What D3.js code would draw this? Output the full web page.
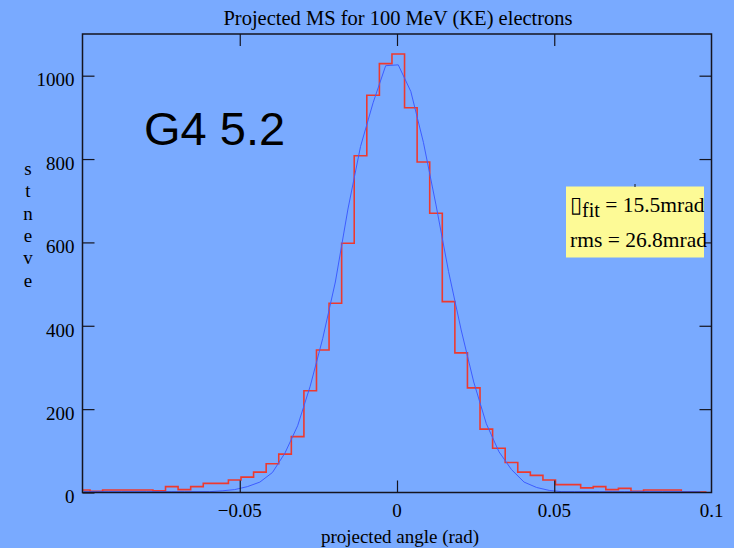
<!DOCTYPE html>
<html>
<head>
<meta charset="utf-8">
<script src="https://cdn.jsdelivr.net/npm/d3@7"></script>
<style>
  html, body { margin: 0; padding: 0; background: #79aaff; }
  svg { display: block; }
</style>
</head>
<body>
<script>
'use strict';

// histogram binning (rad)
var binStart = -0.1016;
var binWidth = 0.004;

// G4 counts per bin (red histogram)
var g4Counts = [6, 3, 6, 6, 6, 6, 4, 14, 7, 14,
    22, 22, 30, 37, 49, 69, 92, 134, 244, 342,
    454, 598, 808, 953, 1029, 1052, 923, 793, 670, 458,
    335, 251, 152, 106, 72, 49, 41, 30, 19, 19,
    11, 14, 7, 10, 3, 6, 6, 6, 1, 1];

// fit curve sampled at the bin centres (blue line)
var fitValues = [2, 2, 2, 2, 2, 2, 2, 2, 2, 2,
    2, 4, 7, 14, 25, 48, 95, 160, 255, 370,
    505, 680, 830, 935, 1024, 1026, 962, 840, 690, 530,
    390, 265, 165, 98, 55, 25, 12, 5, 2, 2,
    2, 2, 2, 2, 2, 2, 2, 2, 2, 2];

var xTickValues = [-0.05, 0, 0.05];
var xLabelValues = [-0.05, 0, 0.05, 0.1];
var yTickValues = [0, 200, 400, 600, 800, 1000];
var yTitleLetters = ['s', 't', 'n', 'e', 'v', 'e'];

var chartTitle = 'Projected MS for 100 MeV (KE) electrons';
var xTitle = 'projected angle (rad)';
var versionLabel = 'G4 5.2';
var fitLabel = ['\u25AF', 'fit', ' = 15.5mrad'];
var rmsLabel = 'rms = 26.8mrad';

var width = 734;
var height = 548;
var plot = {left: 82.5, right: 711.5, top: 34, bottom: 492.5};
var serif = '"Liberation Serif", "Times New Roman", serif';
var axisColor = '#14141f';

var svg = d3.select('body').append('svg')
        .attr('width', width)
        .attr('height', height);

svg.append('rect')
        .attr('width', width)
        .attr('height', height)
        .attr('fill', '#79aaff');

var x = d3.scaleLinear().domain([-0.1, 0.1]).range([plot.left, plot.right]);
var y = d3.scaleLinear().domain([0, 1100]).range([plot.bottom, plot.top]);

svg.append('clipPath').attr('id', 'plotClip')
        .append('rect')
        .attr('x', plot.left)
        .attr('y', plot.top)
        .attr('width', plot.right - plot.left)
        .attr('height', plot.bottom - plot.top);

// Title
svg.append('text')
        .attr('x', 398)
        .attr('y', 24.5)
        .attr('text-anchor', 'middle')
        .attr('font-family', serif)
        .attr('font-size', 20.5)
        .attr('fill', '#000')
        .text(chartTitle);

// red histogram outline
var stepPoints = g4Counts.map(function(c, i) {
    return [binStart + i * binWidth, c];
});
stepPoints.push([binStart + g4Counts.length * binWidth, g4Counts[g4Counts.length - 1]]);

var stepLine = d3.line()
        .x(function(d) { return x(d[0]); })
        .y(function(d) { return y(d[1]); })
        .curve(d3.curveStepAfter);

var fitLine = d3.line()
        .x(function(d, i) { return x(binStart + (i + 0.5) * binWidth); })
        .y(function(d) { return y(d); });

var marks = svg.append('g').attr('clip-path', 'url(#plotClip)');

marks.append('path')
        .attr('d', stepLine(stepPoints))
        .attr('fill', 'none')
        .attr('stroke', '#f8301c')
        .attr('stroke-opacity', 0.92)
        .attr('stroke-width', 1.6);

marks.append('path')
        .attr('d', fitLine(fitValues))
        .attr('fill', 'none')
        .attr('stroke', '#3d5cff')
        .attr('stroke-width', 1);

// Axes: ticks point inwards on all four sides
var axisLeft = d3.axisLeft(y).tickValues(yTickValues).tickSize(-12).tickPadding(8)
        .tickFormat(d3.format('d'));
var axisRight = d3.axisRight(y).tickValues(yTickValues.slice(1)).tickSize(-12).tickFormat('');
var axisBottom = d3.axisBottom(x).tickValues(xTickValues).tickSize(-12).tickFormat('');
var axisTop = d3.axisTop(x).tickValues(xTickValues).tickSize(-12).tickFormat('');

function styleAxis(g) {
    g.select('.domain').remove();
    g.selectAll('.tick line').attr('stroke', axisColor).attr('stroke-width', 1.2);
    g.selectAll('text')
            .attr('font-family', serif)
            .attr('font-size', 19)
            .attr('fill', '#000');
}

svg.append('g').attr('transform', 'translate(' + plot.left + ',0)')
        .call(axisLeft).call(styleAxis)
        .selectAll('text').attr('dy', '0.54em');
svg.append('g').attr('transform', 'translate(' + plot.right + ',0)')
        .call(axisRight).call(styleAxis);
svg.append('g').attr('transform', 'translate(0,' + plot.bottom + ')')
        .call(axisBottom).call(styleAxis);
svg.append('g').attr('transform', 'translate(0,' + plot.top + ')')
        .call(axisTop).call(styleAxis);

// x tick labels (no tick mark at 0.1, it is the corner)
svg.append('g').selectAll('text')
        .data(xLabelValues)
        .enter().append('text')
        .attr('x', function(d) { return x(d); })
        .attr('y', 517)
        .attr('text-anchor', 'middle')
        .attr('font-family', serif)
        .attr('font-size', 19)
        .text(function(d) { return d3.format('')(d); });

// frame
svg.append('rect')
        .attr('x', plot.left)
        .attr('y', plot.top)
        .attr('width', plot.right - plot.left)
        .attr('height', plot.bottom - plot.top)
        .attr('fill', 'none')
        .attr('stroke', axisColor)
        .attr('stroke-width', 1.5);

// x title
svg.append('text')
        .attr('x', 400)
        .attr('y', 543)
        .attr('text-anchor', 'middle')
        .attr('font-family', serif)
        .attr('font-size', 19)
        .text(xTitle);

// y title, letters stacked one under the other
svg.append('g').selectAll('text')
        .data(yTitleLetters)
        .enter().append('text')
        .attr('x', 28)
        .attr('y', function(d, i) { return 175 + i * 22.3; })
        .attr('text-anchor', 'middle')
        .attr('font-family', serif)
        .attr('font-size', 19)
        .text(function(d) { return d; });

// big version label
svg.append('text')
        .attr('x', 144)
        .attr('y', 145)
        .attr('font-family', '"Liberation Sans", Arial, sans-serif')
        .attr('font-size', 47)
        .attr('fill', '#000')
        .text(versionLabel);

// fit result box
svg.append('rect')
        .attr('x', 566)
        .attr('y', 186.5)
        .attr('width', 138)
        .attr('height', 71)
        .attr('fill', '#fdfa96');

// small stray mark above the box
svg.append('line')
        .attr('x1', 635).attr('x2', 635)
        .attr('y1', 184).attr('y2', 187)
        .attr('stroke', axisColor)
        .attr('stroke-width', 1);

var fitText = svg.append('text')
        .attr('x', 570)
        .attr('y', 212)
        .attr('font-family', serif)
        .attr('font-size', 21.5);
fitText.append('tspan').text(fitLabel[0]);
fitText.append('tspan').attr('dy', 5).attr('font-size', 20).text(fitLabel[1]);
fitText.append('tspan').attr('dy', -5).text(fitLabel[2]);

svg.append('text')
        .attr('x', 570)
        .attr('y', 247)
        .attr('font-family', serif)
        .attr('font-size', 21.5)
        .text(rmsLabel);
</script>
</body>
</html>
